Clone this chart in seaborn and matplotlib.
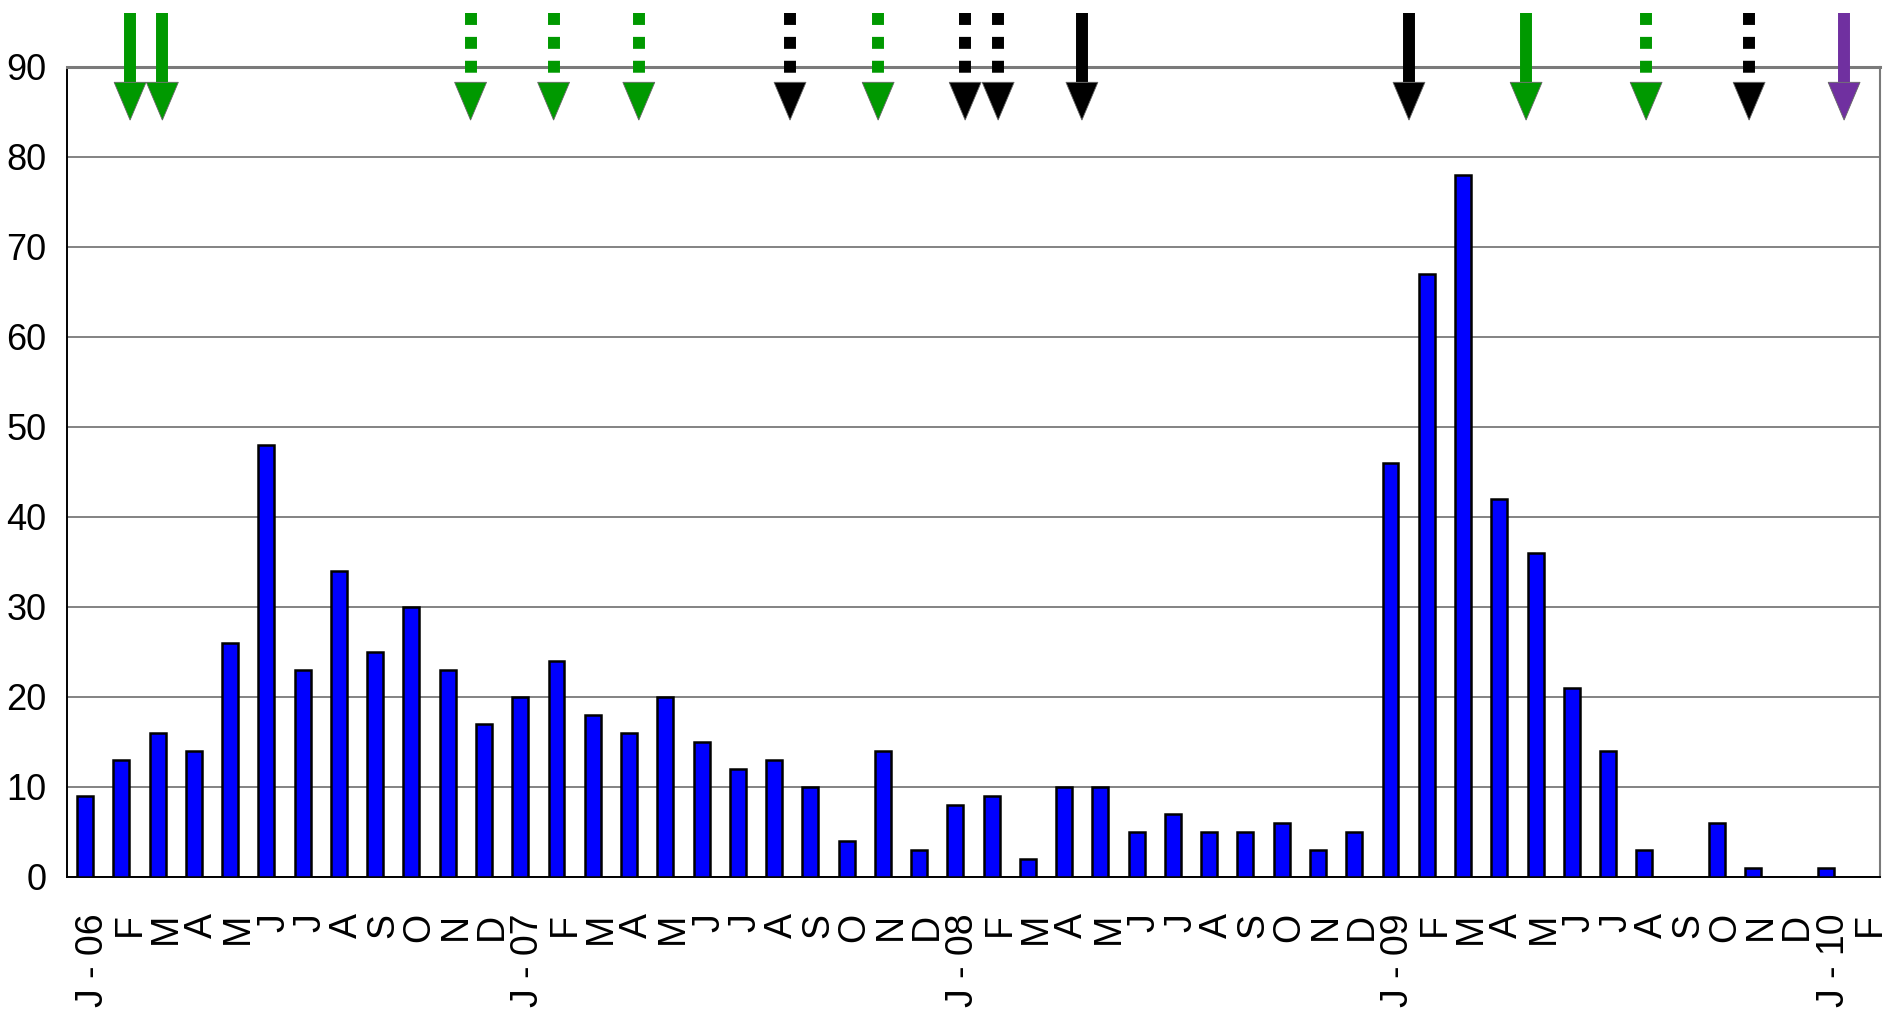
import pandas as pd
import matplotlib
matplotlib.use("Agg")
import matplotlib.pyplot as plt
import matplotlib.transforms as mtransforms
import seaborn as sns

# monthly counts, Jan 2006 .. Feb 2010
month_labels = ["J - 06", "F", "M", "A", "M", "J", "J", "A", "S", "O", "N", "D",
                "J - 07", "F", "M", "A", "M", "J", "J", "A", "S", "O", "N", "D",
                "J - 08", "F", "M", "A", "M", "J", "J", "A", "S", "O", "N", "D",
                "J - 09", "F", "M", "A", "M", "J", "J", "A", "S", "O", "N", "D",
                "J - 10", "F"]
counts = [9, 13, 16, 14, 26, 48, 23, 34, 25, 30, 23, 17,
          20, 24, 18, 16, 20, 15, 12, 13, 10, 4, 14, 3,
          8, 9, 2, 10, 10, 5, 7, 5, 5, 6, 3, 5,
          46, 67, 78, 42, 36, 21, 14, 3, 0, 6, 1, 0,
          1, 0]

# event arrows along the top (position in month units)
arrow_pos = [1.24, 2.13, 10.63, 12.92, 15.27, 19.44, 21.87, 24.27, 25.18,
             27.49, 36.51, 39.74, 43.05, 45.89, 48.51]
arrow_color = ["green", "green", "green", "green", "green", "black", "green", "black", "black",
               "black", "black", "green", "green", "black", "purple"]
arrow_dashed = [False, False, True, True, True, True, True, True, True,
                False, False, False, True, True, False]

COLORS = {"green": "#009900", "black": "#000000", "purple": "#7030A0"}

sns.set_theme(style="white")
plt.rcParams["font.family"] = ["Liberation Sans", "DejaVu Sans"]

fig = plt.figure(figsize=(18.87, 10.10), dpi=100)
ax = fig.add_axes([67 / 1887, 133 / 1010, 1813 / 1887, 810 / 1010])

df = pd.DataFrame({"month": range(len(counts)), "count": counts})
sns.barplot(data=df, x="month", y="count", color="#0000FF", saturation=1,
            width=0.44, edgecolor="black", linewidth=1.8, ax=ax, zorder=3)

ax.set_xlim(-0.5, len(counts) - 0.5)
ax.set_ylim(0, 90)
ax.set_xlabel("")
ax.set_ylabel("")

# gridlines
ax.set_yticks(range(0, 91, 10))
ax.yaxis.grid(True, color="#7a7a7a", linewidth=1.3, zorder=0)
ax.set_axisbelow(True)
ax.tick_params(axis="y", direction="out", length=6, width=1, color="black",
               labelsize=26, pad=9, labelcolor="black")

# category labels centred on bars, tick marks on the boundaries
ax.set_xticks(range(len(counts)))
ax.set_xticklabels(month_labels, rotation=90, va="top", ha="center", fontsize=27,
                   color="black")
ax.tick_params(axis="x", which="major", length=0, pad=26)
ax.set_xticks([i - 0.5 for i in range(len(counts) + 1)], minor=True)
ax.tick_params(axis="x", which="minor", direction="out", length=11.5, width=1, color="black")
shift = mtransforms.ScaledTranslation(8 / 100, 0, fig.dpi_scale_trans)
for lab in ax.get_xticklabels():
    lab.set_transform(lab.get_transform() + shift)

for side in ["left", "bottom"]:
    ax.spines[side].set_color("black")
    ax.spines[side].set_linewidth(1.4)
ax.spines["top"].set_color("#7a7a7a")
ax.spines["top"].set_linewidth(2.2)
ax.spines["right"].set_color("#7a7a7a")
ax.spines["right"].set_linewidth(1.5)

# arrows
ARROW_TOP, HEAD_TOP, HEAD_TIP, HEAD_HALF = 96.0, 88.3, 84.1, 0.44
for x, c, dashed in zip(arrow_pos, arrow_color, arrow_dashed):
    col = COLORS[c]
    ax.plot([x, x], [ARROW_TOP, HEAD_TOP], color=col, linewidth=8.6,
            linestyle=(0, (1, 1)) if dashed else "-",
            solid_capstyle="butt", dash_capstyle="butt",
            clip_on=False, zorder=6)
    ax.fill([x - HEAD_HALF, x + HEAD_HALF, x], [HEAD_TOP, HEAD_TOP, HEAD_TIP],
            color=col, edgecolor="#666666", linewidth=0.6, clip_on=False, zorder=6)

fig.savefig("out.png", dpi=100)
